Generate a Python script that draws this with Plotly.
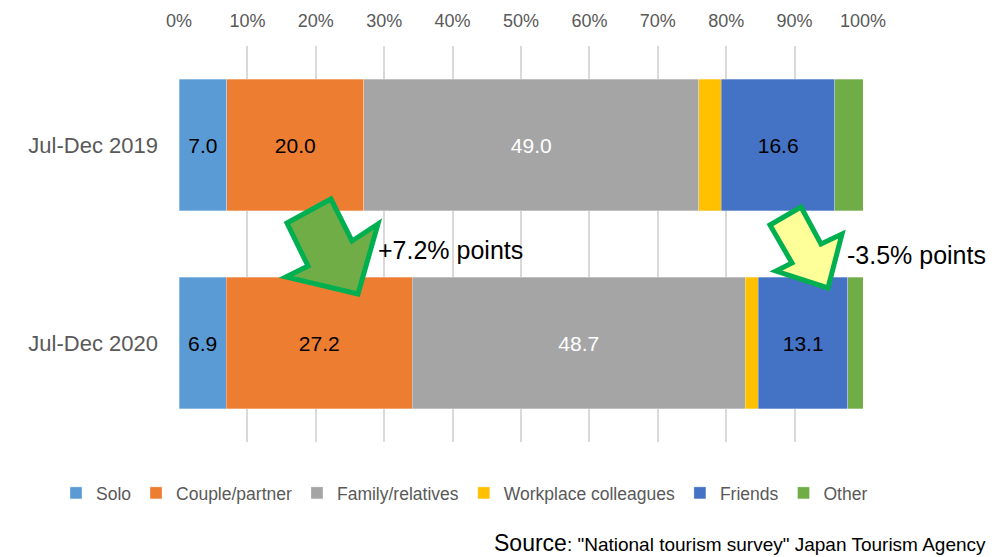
import plotly.graph_objects as go

# data
periods = ["Jul-Dec 2019", "Jul-Dec 2020"]
groups = ["Solo", "Couple/partner", "Family/relatives", "Workplace colleagues", "Friends", "Other"]
solo = [7.0, 6.9]
couple = [20.0, 27.2]
family = [49.0, 48.7]
workplace = [3.3, 1.9]
friends = [16.6, 13.1]
other = [4.1, 2.2]
shown_labels = {"Solo", "Couple/partner", "Family/relatives", "Friends"}

colors = ["#5B9BD5", "#ED7D31", "#A5A5A5", "#FFC000", "#4472C4", "#70AD47"]
text_colors = ["#000000", "#000000", "#ffffff", "#000000", "#000000", "#000000"]
series = [solo, couple, family, workplace, friends, other]

# page has an 8px body margin, so the figure is drawn 8px smaller and offset
OFF = 8
W, H = 1008 - OFF, 557 - OFF
L, R, T, B = 179, 863, 46, 442  # plot area in page pixels
FONT = "Liberation Sans, Arial"


def px(x, y):
    # page pixel position -> paper coords
    return (x - L) / (R - L), (B - y) / (B - T)


def arrow_path(points):
    pts = [px(x, y) for x, y in points]
    return "M " + " L ".join(f"{a:.4f},{b:.4f}" for a, b in pts) + " Z"


fig = go.Figure()
for name, vals, col, tcol in zip(groups, series, colors, text_colors):
    fig.add_trace(
        go.Bar(
            y=periods,
            x=vals,
            name=name,
            orientation="h",
            marker=dict(color=col, line=dict(color="rgba(255,255,255,0.6)", width=0.5)),
            text=[f"{v:.1f}" for v in vals] if name in shown_labels else None,
            textposition="inside",
            insidetextanchor="middle",
            textfont=dict(color=tcol, size=21, family=FONT),
            textangle=0,
            hoverinfo="x+name",
        )
    )

# arrows (pixel outlines)
arrow_up = [(287, 223), (331, 199), (352, 241), (378, 224), (358, 294), (286, 277), (308, 266)]
arrow_down = [(770, 225), (801, 207), (821, 244), (842, 234), (828, 288), (776, 271), (792, 263)]
fig.add_shape(type="path", xref="paper", yref="paper", path=arrow_path(arrow_up),
              fillcolor="#70AD47", line=dict(color="#00B050", width=5))
fig.add_shape(type="path", xref="paper", yref="paper", path=arrow_path(arrow_down),
              fillcolor="#FFFF99", line=dict(color="#00B050", width=5))

ax, ay = px(376, 250)
fig.add_annotation(x=ax, y=ay, xref="paper", yref="paper", text="+7.2% points",
                   showarrow=False, xanchor="left", yanchor="middle",
                   font=dict(size=25, color="#000000", family=FONT))
ax, ay = px(845, 255)
fig.add_annotation(x=ax, y=ay, xref="paper", yref="paper", text="-3.5% points",
                   showarrow=False, xanchor="left", yanchor="middle",
                   font=dict(size=25, color="#000000", family=FONT))

ax, ay = px(988, 543)
fig.add_annotation(x=ax, y=ay, xref="paper", yref="paper",
                   text="<span style='font-size:23px'>Source</span>: \"National tourism survey\" Japan Tourism Agency",
                   showarrow=False, xanchor="right", yanchor="middle",
                   font=dict(size=19, color="#000000", family=FONT))

fig.update_layout(
    width=W,
    height=H,
    barmode="stack",
    bargap=0.335,
    plot_bgcolor="#ffffff",
    paper_bgcolor="#ffffff",
    margin=dict(l=L - OFF, r=W - (R - OFF), t=T - OFF, b=H - (B - OFF), autoexpand=False),
    font=dict(family=FONT, color="#595959"),
    xaxis=dict(
        side="top",
        range=[0, 100],
        tickvals=list(range(0, 101, 10)),
        ticktext=[f"{v}%" for v in range(0, 101, 10)],
        showgrid=True,
        gridcolor="#D9D9D9",
        gridwidth=2,
        zeroline=False,
        tickfont=dict(size=18, color="#595959"),
        ticklabelstandoff=14,
        fixedrange=True,
    ),
    yaxis=dict(
        autorange="reversed",
        tickfont=dict(size=22, color="#595959"),
        ticklabelstandoff=20,
        showgrid=False,
        fixedrange=True,
    ),
    legend=dict(
        orientation="h",
        x=px(56, 0)[0],
        y=px(0, 493)[1],
        xanchor="left",
        yanchor="middle",
        font=dict(size=17.5, color="#595959", family=FONT),
        itemwidth=30,
        traceorder="normal",
    ),
    showlegend=True,
)

fig.write_html("out.html")
